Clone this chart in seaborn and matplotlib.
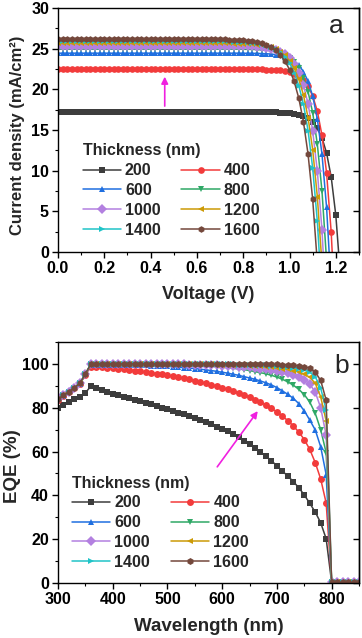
import pandas as pd
import matplotlib
matplotlib.use("Agg")
import matplotlib.pyplot as plt
from matplotlib.ticker import MultipleLocator
import seaborn as sns

# ── Data ─────────────────────────────────────────────────────────────────────
THICKNESS = ["200", "400", "600", "800", "1000", "1200", "1400", "1600"]

VOLTAGE = [0.00, 0.02, 0.04, 0.06, 0.08, 0.10, 0.12, 0.14, 0.16, 0.18,
           0.20, 0.22, 0.24, 0.26, 0.28, 0.30, 0.32, 0.34, 0.36, 0.38,
           0.40, 0.42, 0.44, 0.46, 0.48, 0.50, 0.52, 0.54, 0.56, 0.58,
           0.60, 0.62, 0.64, 0.66, 0.68, 0.70, 0.72, 0.74, 0.76, 0.78,
           0.80, 0.82, 0.84, 0.86, 0.88, 0.90, 0.92, 0.94, 0.96, 0.98,
           1.00, 1.02, 1.04, 1.06, 1.08, 1.10, 1.12, 1.14, 1.16, 1.18,
           1.20, 1.22]

J_200 = [17.20, 17.20, 17.20, 17.20, 17.20, 17.20, 17.20, 17.20, 17.20, 17.20,
         17.20, 17.20, 17.20, 17.20, 17.20, 17.20, 17.20, 17.20, 17.20, 17.20,
         17.20, 17.20, 17.20, 17.20, 17.20, 17.20, 17.20, 17.20, 17.20, 17.20,
         17.20, 17.20, 17.20, 17.20, 17.20, 17.20, 17.20, 17.20, 17.20, 17.20,
         17.20, 17.20, 17.20, 17.20, 17.20, 17.19, 17.18, 17.17, 17.15, 17.12,
         17.08, 17.01, 16.89, 16.71, 16.42, 15.96, 15.22, 14.05, 12.18, 9.21,
         4.49, -3.04]
J_400 = [22.45, 22.45, 22.45, 22.45, 22.45, 22.45, 22.45, 22.45, 22.45, 22.45,
         22.45, 22.45, 22.45, 22.45, 22.45, 22.45, 22.45, 22.45, 22.45, 22.45,
         22.45, 22.45, 22.45, 22.45, 22.45, 22.45, 22.45, 22.45, 22.45, 22.45,
         22.45, 22.45, 22.45, 22.45, 22.45, 22.45, 22.45, 22.45, 22.45, 22.45,
         22.45, 22.45, 22.45, 22.45, 22.45, 22.42, 22.40, 22.36, 22.32, 22.24,
         22.11, 21.92, 21.62, 21.14, 20.39, 19.19, 17.33, 14.37, 9.72, 2.42,
         -9.10]
J_600 = [24.45, 24.45, 24.45, 24.45, 24.45, 24.45, 24.45, 24.45, 24.45, 24.45,
         24.45, 24.45, 24.45, 24.45, 24.45, 24.45, 24.45, 24.45, 24.45, 24.45,
         24.45, 24.45, 24.45, 24.45, 24.45, 24.45, 24.45, 24.45, 24.45, 24.45,
         24.45, 24.45, 24.45, 24.45, 24.45, 24.45, 24.45, 24.45, 24.45, 24.45,
         24.44, 24.44, 24.43, 24.42, 24.40, 24.38, 24.34, 24.27, 24.18, 24.04,
         23.82, 23.49, 22.98, 22.19, 21.00, 19.17, 16.36, 12.08, 5.50, -4.50]
J_800 = [24.95, 24.95, 24.95, 24.95, 24.95, 24.95, 24.95, 24.95, 24.95, 24.95,
         24.95, 24.95, 24.95, 24.95, 24.95, 24.95, 24.95, 24.95, 24.95, 24.95,
         24.95, 24.95, 24.95, 24.95, 24.95, 24.95, 24.95, 24.95, 24.95, 24.95,
         24.95, 24.95, 24.95, 24.95, 24.95, 24.95, 24.95, 24.95, 24.95, 24.95,
         24.93, 24.92, 24.91, 24.89, 24.85, 24.81, 24.74, 24.63, 24.47, 24.24,
         23.89, 23.37, 22.59, 21.43, 19.71, 17.14, 13.28, 7.54, -1.02]
J_1000 = [25.35, 25.35, 25.35, 25.35, 25.35, 25.35, 25.35, 25.35, 25.35, 25.35,
          25.35, 25.35, 25.35, 25.35, 25.35, 25.35, 25.35, 25.35, 25.35, 25.35,
          25.35, 25.35, 25.35, 25.35, 25.35, 25.35, 25.35, 25.35, 25.35, 25.35,
          25.35, 25.35, 25.35, 25.35, 25.35, 25.35, 25.35, 25.35, 25.35, 25.33,
          25.32, 25.30, 25.28, 25.25, 25.20, 25.13, 25.02, 24.87, 24.64, 24.31,
          23.82, 23.10, 22.05, 20.51, 18.23, 14.88, 9.96, 2.76, -7.90]
J_1200 = [25.65, 25.65, 25.65, 25.65, 25.65, 25.65, 25.65, 25.65, 25.65, 25.65,
          25.65, 25.65, 25.65, 25.65, 25.65, 25.65, 25.65, 25.65, 25.65, 25.65,
          25.65, 25.65, 25.65, 25.65, 25.65, 25.65, 25.65, 25.65, 25.65, 25.65,
          25.65, 25.65, 25.65, 25.65, 25.65, 25.65, 25.65, 25.65, 25.62, 25.61,
          25.59, 25.57, 25.53, 25.48, 25.41, 25.31, 25.15, 24.94, 24.62, 24.17,
          23.52, 22.60, 21.26, 19.32, 16.54, 12.57, 6.82, -1.44]
J_1400 = [25.90, 25.90, 25.90, 25.90, 25.90, 25.90, 25.90, 25.90, 25.90, 25.90,
          25.90, 25.90, 25.90, 25.90, 25.90, 25.90, 25.90, 25.90, 25.90, 25.90,
          25.90, 25.90, 25.90, 25.90, 25.90, 25.90, 25.90, 25.90, 25.90, 25.90,
          25.90, 25.90, 25.90, 25.90, 25.90, 25.90, 25.90, 25.90, 25.86, 25.84,
          25.82, 25.79, 25.74, 25.67, 25.57, 25.43, 25.24, 24.96, 24.56, 24.00,
          23.21, 22.07, 20.46, 18.18, 14.94, 10.33, 3.78, -5.50]
J_1600 = [26.15, 26.15, 26.15, 26.15, 26.15, 26.15, 26.15, 26.15, 26.15, 26.15,
          26.15, 26.15, 26.15, 26.15, 26.15, 26.15, 26.15, 26.15, 26.15, 26.15,
          26.15, 26.15, 26.15, 26.15, 26.15, 26.15, 26.15, 26.15, 26.15, 26.15,
          26.15, 26.15, 26.15, 26.15, 26.15, 26.15, 26.15, 26.10, 26.08, 26.06,
          26.02, 25.96, 25.89, 25.79, 25.65, 25.45, 25.17, 24.78, 24.24, 23.48,
          22.44, 20.97, 18.91, 16.03, 12.03, 6.46, -1.33]

WAVELENGTH = [300, 310, 320, 330, 340, 350, 360, 370, 380, 390,
              400, 410, 420, 430, 440, 450, 460, 470, 480, 490,
              500, 510, 520, 530, 540, 550, 560, 570, 580, 590,
              600, 610, 620, 630, 640, 650, 660, 670, 680, 690,
              700, 710, 720, 730, 740, 750, 760, 770, 780, 790,
              800, 810, 820, 830, 840, 850]

EQE_200 = [80.0, 81.3, 82.6, 83.8, 85.1, 86.8, 89.8, 88.9, 88.1, 87.3,
           86.5, 85.8, 85.1, 84.4, 83.7, 83.0, 82.3, 81.6, 80.9, 80.1,
           79.4, 78.6, 77.8, 77.0, 76.1, 75.2, 74.3, 73.4, 72.4, 71.4,
           70.4, 69.2, 67.9, 66.5, 65.0, 63.4, 61.7, 59.8, 57.9, 55.8,
           53.5, 51.1, 48.8, 46.3, 43.5, 40.2, 36.4, 32.4, 27.5, 20.2,
           0.3, 0.3, 0.3, 0.3, 0.3, 0.3]
EQE_400 = [83.6, 85.3, 87.0, 88.8, 90.8, 94.9, 98.8, 98.7, 98.5, 98.3,
           98.1, 97.8, 97.6, 97.3, 97.0, 96.7, 96.4, 96.0, 95.6, 95.2,
           94.8, 94.4, 93.9, 93.4, 92.9, 92.4, 91.8, 91.2, 90.6, 89.9,
           89.2, 88.4, 87.6, 86.7, 85.8, 84.8, 83.7, 82.5, 81.2, 79.7,
           78.1, 76.2, 74.1, 71.7, 68.9, 65.5, 61.0, 55.0, 47.5, 36.5,
           0.3, 0.3, 0.3, 0.3, 0.3, 0.3]
EQE_600 = [83.8, 85.5, 87.2, 89.0, 91.0, 95.2, 99.6, 99.6, 99.6, 99.6,
           99.6, 99.6, 99.5, 99.5, 99.4, 99.4, 99.3, 99.2, 99.1, 99.0,
           98.9, 98.7, 98.5, 98.3, 98.1, 97.9, 97.6, 97.3, 97.0, 96.6,
           96.2, 95.8, 95.3, 94.8, 94.2, 93.6, 93.0, 92.2, 91.4, 90.4,
           89.2, 87.7, 86.1, 84.3, 81.9, 78.6, 74.4, 69.9, 62.2, 49.5,
           0.3, 0.3, 0.3, 0.3, 0.3, 0.3]
EQE_800 = [84.0, 85.7, 87.4, 89.2, 91.2, 95.4, 99.9, 99.9, 99.9, 99.9,
           99.9, 99.9, 99.9, 99.9, 99.9, 99.9, 99.9, 99.9, 99.8, 99.8,
           99.7, 99.7, 99.6, 99.5, 99.4, 99.3, 99.2, 99.0, 98.9, 98.7,
           98.5, 98.3, 98.0, 97.7, 97.4, 97.0, 96.5, 96.0, 95.5, 94.8,
           94.0, 93.0, 91.8, 90.3, 88.4, 86.0, 82.6, 77.5, 70.0, 59.5,
           0.3, 0.3, 0.3, 0.3, 0.3, 0.3]
EQE_1000 = [84.0, 85.7, 87.4, 89.2, 91.2, 95.4, 99.9, 99.9, 99.9, 99.9,
            99.9, 99.9, 99.9, 99.9, 99.9, 99.9, 99.9, 99.9, 99.9, 99.9,
            99.9, 99.8, 99.8, 99.8, 99.7, 99.7, 99.6, 99.5, 99.4, 99.3,
            99.2, 99.1, 98.9, 98.8, 98.6, 98.4, 98.2, 97.9, 97.6, 97.3,
            96.9, 96.4, 95.8, 95.1, 94.1, 92.8, 90.8, 87.2, 80.0, 67.5,
            0.3, 0.3, 0.3, 0.3, 0.3, 0.3]
EQE_1200 = [84.0, 85.7, 87.4, 89.2, 91.2, 95.4, 99.9, 99.9, 99.9, 99.9,
            99.9, 99.9, 99.9, 99.9, 99.9, 99.9, 99.9, 99.9, 99.9, 99.9,
            99.9, 99.9, 99.9, 99.9, 99.9, 99.9, 99.9, 99.8, 99.8, 99.7,
            99.7, 99.6, 99.5, 99.4, 99.3, 99.2, 99.0, 98.9, 98.7, 98.5,
            98.2, 97.9, 97.5, 97.0, 96.3, 95.4, 93.9, 91.2, 85.0, 74.0,
            0.3, 0.3, 0.3, 0.3, 0.3, 0.3]
EQE_1400 = [84.0, 85.7, 87.4, 89.2, 91.2, 95.4, 99.9, 99.9, 99.9, 99.9,
            99.9, 99.9, 99.9, 99.9, 99.9, 99.9, 99.9, 99.9, 99.9, 99.9,
            99.9, 99.9, 99.9, 99.9, 99.9, 99.9, 99.9, 99.9, 99.9, 99.9,
            99.9, 99.8, 99.8, 99.7, 99.7, 99.6, 99.5, 99.4, 99.3, 99.2,
            99.0, 98.8, 98.5, 98.2, 97.8, 97.2, 96.2, 94.2, 89.0, 79.0,
            0.3, 0.3, 0.3, 0.3, 0.3, 0.3]
EQE_1600 = [84.0, 85.7, 87.4, 89.2, 91.2, 95.4, 100.0, 100.0, 100.0, 100.0,
            100.0, 100.0, 100.0, 100.0, 100.0, 100.0, 100.0, 100.0, 100.0, 100.0,
            100.0, 100.0, 100.0, 100.0, 100.0, 100.0, 100.0, 100.0, 100.0, 100.0,
            100.0, 100.0, 100.0, 100.0, 100.0, 100.0, 99.9, 99.9, 99.9, 99.8,
            99.8, 99.7, 99.6, 99.4, 99.2, 98.8, 98.0, 96.3, 92.5, 83.5,
            0.3, 0.3, 0.3, 0.3, 0.3, 0.3]

JV_CURVES = [J_200, J_400, J_600, J_800, J_1000, J_1200, J_1400, J_1600]
EQE_CURVES = [EQE_200, EQE_400, EQE_600, EQE_800, EQE_1000, EQE_1200, EQE_1400, EQE_1600]

# ── Style ────────────────────────────────────────────────────────────────────
COLORS = ["#3d3d3d", "#f23b3b", "#1f6fe0", "#2fa866",
          "#b380e0", "#cc9a06", "#20c4c8", "#74483c"]
MARKERS = ["s", "o", "^", "v", "D", "<", ">", "h"]
PALETTE = dict(zip(THICKNESS, COLORS))
MARKER_MAP = dict(zip(THICKNESS, MARKERS))
ARROW_COLOR = "#f020e0"
LEGEND_ORDER = [0, 2, 4, 6, 1, 3, 5, 7]  # row-wise fill for 2 columns

sns.set_theme(style="ticks")
plt.rcParams.update({
    "font.family": ["Liberation Sans", "DejaVu Sans"],
    "font.weight": "bold",
    "axes.labelweight": "bold",
    "axes.linewidth": 1.0,
    "axes.edgecolor": "black",
    "xtick.color": "black",
    "ytick.color": "black",
    "xtick.direction": "out",
    "ytick.direction": "out",
})


def long_frame(xs, curves, xname, yname):
    rows = []
    for label, ys in zip(THICKNESS, curves):
        for x, y in zip(xs, ys):
            rows.append({xname: x, yname: y, "Thickness": label})
    return pd.DataFrame(rows)


def draw_panel(ax, df, xname, yname, msize):
    sns.lineplot(data=df, x=xname, y=yname, hue="Thickness", style="Thickness",
                 hue_order=THICKNESS, style_order=THICKNESS, palette=PALETTE,
                 markers=MARKER_MAP, dashes=False, estimator=None, sort=False,
                 linewidth=1.1, markersize=msize, markeredgewidth=0, ax=ax)
    handles, labels = ax.get_legend_handles_labels()
    return handles, labels


def style_axes(ax, xmaj, xmin, ymaj, ymin):
    ax.xaxis.set_major_locator(MultipleLocator(xmaj))
    ax.xaxis.set_minor_locator(MultipleLocator(xmin))
    ax.yaxis.set_major_locator(MultipleLocator(ymaj))
    ax.yaxis.set_minor_locator(MultipleLocator(ymin))
    ax.tick_params(which="major", length=4, width=1.0, labelsize=11.5, pad=2.5)
    ax.tick_params(which="minor", length=2.5, width=0.8)
    for s in ax.spines.values():
        s.set_visible(True)
        s.set_linewidth(1.0)
    sec = ax.secondary_yaxis("right")
    sec.yaxis.set_major_locator(MultipleLocator(ymaj))
    sec.tick_params(direction="in", length=4, width=1.0, labelright=False)


def add_legend(ax, handles, labels, anchor):
    handles = [handles[i] for i in LEGEND_ORDER]
    labels = [labels[i] for i in LEGEND_ORDER]
    leg = ax.legend(handles, labels, title="Thickness (nm)", ncol=2,
                    frameon=False, loc="lower left", bbox_to_anchor=anchor,
                    prop={"size": 11.5, "weight": "bold"},
                    title_fontproperties={"size": 11.5, "weight": "bold"},
                    handlelength=2.4, handletextpad=0.25, columnspacing=1.3,
                    labelspacing=0.3, borderaxespad=0.2, alignment="left")
    return leg


fig = plt.figure(figsize=(3.62, 6.38), dpi=100)
ax1 = fig.add_axes([0.1602, 0.605, 0.8315, 0.3824])
ax2 = fig.add_axes([0.1602, 0.0862, 0.8315, 0.3777])

# ── Panel a: J-V ─────────────────────────────────────────────────────────────
jv = long_frame(VOLTAGE, JV_CURVES, "Voltage", "J")
h, l = draw_panel(ax1, jv, "Voltage", "J", 4.8)
ax1.set_xlim(0, 1.3)
ax1.set_ylim(0, 30)
style_axes(ax1, 0.2, 0.1, 5, 2.5)
ax1.set_xlabel("Voltage (V)", fontsize=13, fontweight="bold", labelpad=7)
ax1.set_ylabel("Current density (mA/cm²)", fontsize=12, fontweight="bold")
ax1.yaxis.set_label_coords(-0.11, 0.48)
add_legend(ax1, h, l, (0.05, 0.02))
ax1.annotate("", xy=(0.461, 21.9), xytext=(0.461, 17.6),
             arrowprops=dict(arrowstyle="-|>", color=ARROW_COLOR, lw=1.2,
                             mutation_scale=10))
ax1.text(0.95, 0.975, "a", transform=ax1.transAxes, fontsize=19,
         fontweight="normal", ha="right", va="top")

# ── Panel b: EQE ─────────────────────────────────────────────────────────────
eqe = long_frame(WAVELENGTH, EQE_CURVES, "Wavelength", "EQE")
h, l = draw_panel(ax2, eqe, "Wavelength", "EQE", 5)
ax2.set_xlim(300, 850)
ax2.set_ylim(0, 110)
style_axes(ax2, 100, 50, 20, 10)
ax2.set_xlabel("Wavelength (nm)", fontsize=13.5, fontweight="bold", labelpad=8)
ax2.set_ylabel("EQE (%)", fontsize=13.5, fontweight="bold")
ax2.yaxis.set_label_coords(-0.123, 0.485)
add_legend(ax2, h, l, (0.015, 0.015))
ax2.annotate("", xy=(668, 79.5), xytext=(588, 52),
             arrowprops=dict(arrowstyle="-|>", color=ARROW_COLOR, lw=1.2,
                             mutation_scale=10))
ax2.text(0.965, 0.95, "b", transform=ax2.transAxes, fontsize=19,
         fontweight="normal", ha="right", va="top")

fig.savefig("out.png", dpi=100)
